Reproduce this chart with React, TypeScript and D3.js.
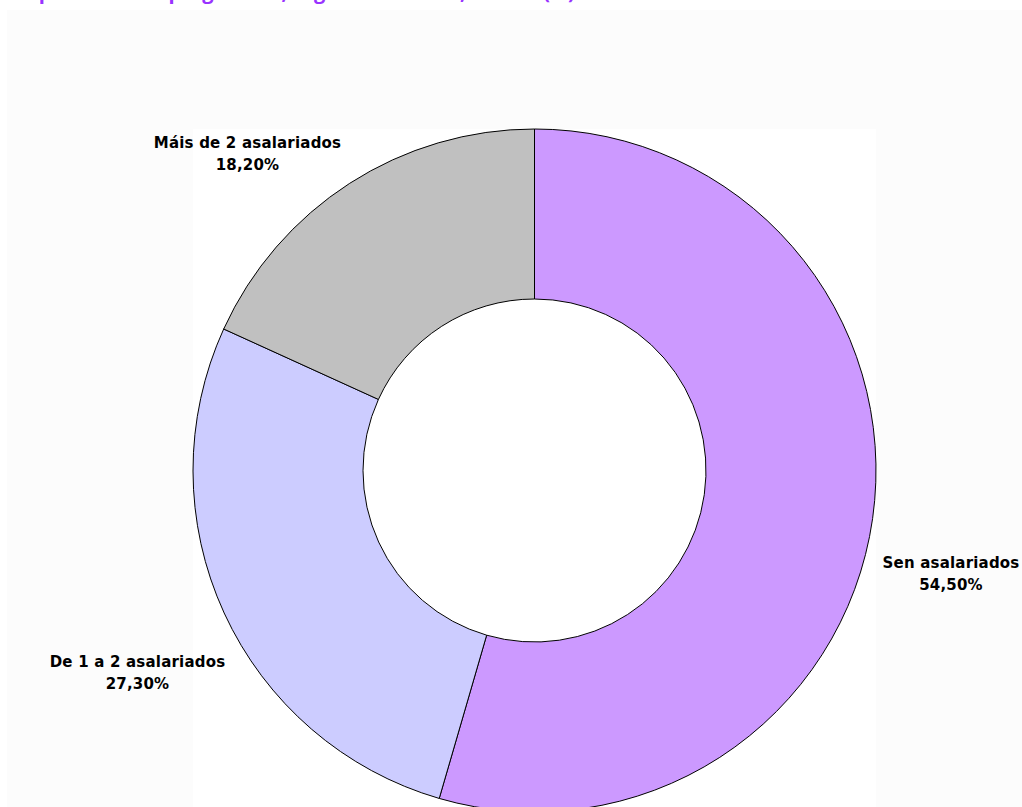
import React from "react";
import * as d3 from "d3";

const categories = ["Sen asalariados", "De 1 a 2 asalariados", "Máis de 2 asalariados"];
const values = [54.5, 27.3, 18.2];
const valueLabels = ["54,50%", "27,30%", "18,20%"];
const colors = ["#CC99FF", "#CCCCFF", "#C0C0C0"];
const title = "Empresarios empregadores, segundo tamaño, Galicia (%)";

export default function App() {
  const W = 1022, H = 807;
  const cx = 534.5, cy = 470.5, R = 341.5, r = 171.5;
  const pie = d3.pie<number>().sort(null).value((d) => d)(values);
  const arc = d3.arc<d3.PieArcDatum<number>>().innerRadius(r).outerRadius(R);
  // label anchor: center x, baseline of first line
  const labelPos: [number, number][] = [
    [951, 568],
    [137.5, 667],
    [247.5, 148],
  ];
  return (
    <svg width={W} height={H} style={{ position: "absolute", left: 0, top: 0 }}>
      <rect x={0} y={0} width={W} height={H} fill="#ffffff" />
      <rect x={7} y={10} width={W - 7} height={H - 10} fill="#fcfcfc" />
      <rect x={cx - R} y={cy - R} width={2 * R} height={H - (cy - R)} fill="#ffffff" />
      <text x={8} y={-1} fill="#9933FF" fontFamily="Open Sans, sans-serif" fontWeight="bold" fontSize={20}>
        {title}
      </text>
      <g transform={`translate(${cx},${cy})`}>
        {pie.map((p, i) => (
          <path key={i} d={arc(p) || ""} fill={colors[i]} stroke="#000" strokeWidth={1} />
        ))}
      </g>
      {categories.map((c, i) => (
        <text key={c} x={labelPos[i][0]} y={labelPos[i][1]} textAnchor="middle" fontFamily="DejaVu Sans, sans-serif" fontWeight="bold" fontSize={15} letterSpacing={0.2} fill="#000">
          <tspan x={labelPos[i][0]} y={labelPos[i][1]}>{c}</tspan>
          <tspan x={labelPos[i][0]} y={labelPos[i][1] + 22}>{valueLabels[i]}</tspan>
        </text>
      ))}
    </svg>
  );
}
